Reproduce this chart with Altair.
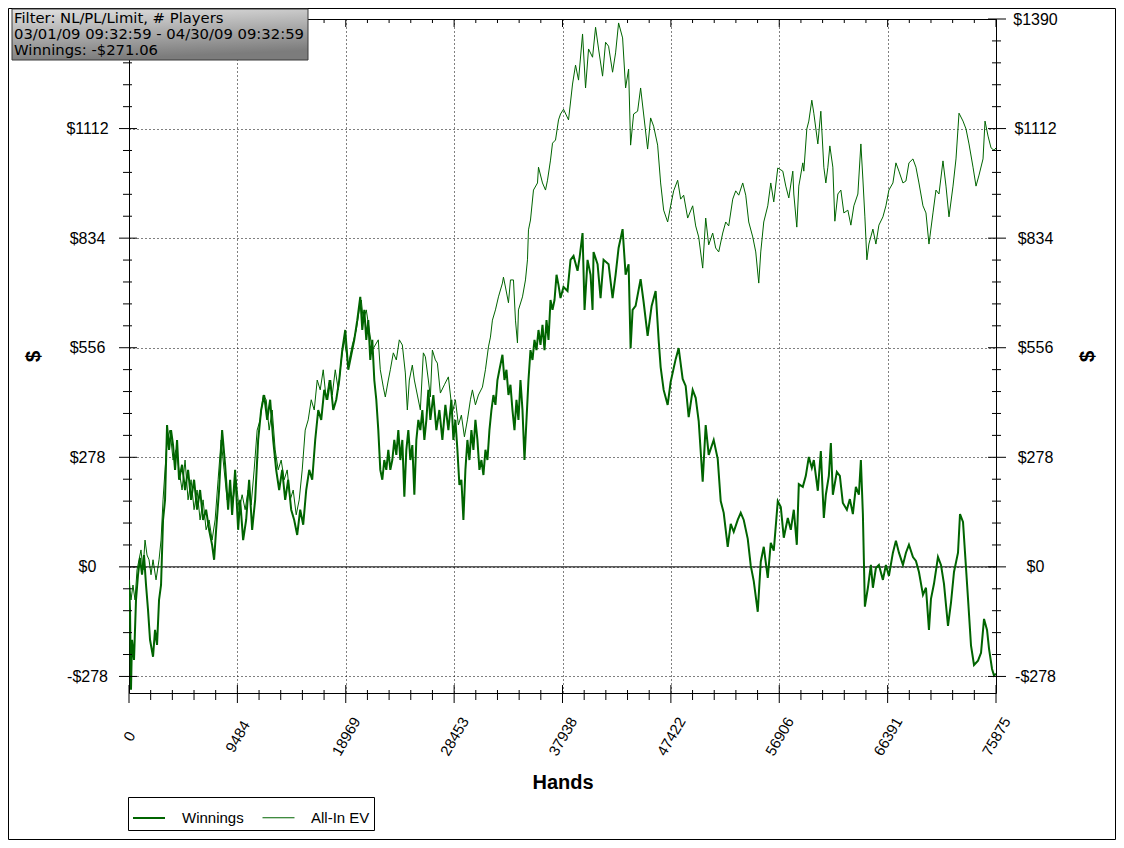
import altair as alt
import pandas as pd

# ---------------- data ----------------
SERIES = ["Winnings", "All-In EV"]

W_HANDS = [0,88,175,263,438,613,789,964,1139,1314,1490,1665,1840,2103,2278,2453,2629,2804,2979,3154,
    3330,3505,3680,3855,4031,4206,4381,4644,4907,5170,5432,5695,5958,6221,6484,6747,7010,7272,7448,7623,
    7886,8149,8411,8674,8850,9025,9288,9551,9726,9989,10252,10514,10777,11040,11303,11566,11829,12092,12354,12617,
    12880,13143,13406,13669,13932,14194,14457,14720,14983,15246,15509,15772,16034,16297,16560,16823,17086,17349,17612,17874,
    18137,18400,18663,18926,
    19189,19452,19714,19977,20240,20415,20591,20766,20941,21116,21292,21467,21642,21817,21993,22168,22343,22518,22694,22869,
    23044,23219,23395,23570,23745,23920,24096,24271,24446,24621,24796,24972,25147,25322,25497,25673,25848,26023,26198,26374,
    26636,26899,27162,27425,27688,27951,28214,28389,28564,28739,28915,29090,29265,29440,29616,29791,29966,30141,30317,30492,
    30667,30842,31017,31193,31368,31543,31718,31894,32069,32244,32419,32682,32858,33033,33208,33383,33558,33734,33909,34084,
    34259,34435,34610,34785,34960,35136,35311,35486,35661,35837,36012,36187,36362,36538,36713,36888,37063,37239,37414,37589,
    37764,38027,38378,38640,38903,39254,39429,39692,39867,40130,40393,40568,40656,41006,41269,41532,41970,42320,42583,42846,
    43197,43460,43722,43898,44073,44336,44774,45037,45387,45738,46088,46351,46526,46789,47140,47402,47841,48103,48454,48717,
    48980,49330,49593,49856,50206,50469,50732,51170,51521,51783,52046,52397,52660,52922,53273,53536,53799,54149,54412,54675,
    55025,55288,55551,55902,56164,56427,56778,
    57041,57303,57654,57917,58180,58443,58618,58968,59231,59494,59757,59932,60283,60545,60808,60984,61246,61422,61597,61947,
    62210,62473,62824,63086,63349,63612,63875,64050,64225,64401,64664,64926,65102,65365,65627,65978,66241,66504,66854,67117,
    67380,67730,67993,68256,68607,68869,69132,69483,69746,70008,70184,70447,70797,71060,71323,71674,71936,72199,72550,72725,
    72988,73163,73426,73689,73951,74302,74565,74827,75090,75266,75528,75704,75875]

W_DOLLARS = [-33,-109,-312,-185,-236,-84,-20,23,-20,30,-46,-109,-185,-228,-160,-198,-84,-46,119,170,
    360,297,347,309,246,322,221,259,195,246,170,221,145,195,119,145,94,56,18,94,
    195,347,259,145,221,132,246,94,170,68,119,221,94,170,322,398,436,373,424,322,
    246,195,246,170,221,145,119,81,145,107,195,246,221,322,398,373,449,424,474,398,
    424,474,550,601,
    500,538,576,626,685,601,652,576,626,525,576,474,424,347,246,221,271,246,297,246,
    271,322,284,347,271,322,178,297,347,271,309,183,322,373,347,398,322,373,449,373,
    436,347,398,322,411,347,424,322,373,297,208,221,119,246,322,271,347,297,373,322,
    246,271,233,297,271,347,398,436,411,474,500,538,474,500,436,462,398,347,424,373,
    474,398,271,373,474,550,525,576,550,601,563,614,550,626,576,677,652,677,741,715,
    682,710,700,779,789,751,784,847,652,779,741,652,799,768,682,779,768,682,741,809,
    857,741,768,555,652,662,730,672,586,662,700,576,507,449,411,469,527,555,477,459,
    380,449,429,370,216,360,284,322,274,167,137,51,109,89,119,137,119,71,3,-36,
    -114,13,51,-28,61,41,167,
    152,74,124,94,145,56,210,203,231,279,251,271,193,294,124,183,231,314,183,241,
    231,162,145,172,134,203,183,271,134,-101,-53,5,-53,-3,5,-33,5,-23,36,66,
    36,5,36,56,25,15,-13,-71,-53,-160,-81,-43,25,5,-43,-150,-91,-13,36,134,
    114,36,-81,-200,-249,-238,-218,-132,-160,-208,-259,-276,-271]

E_HANDS = [0,175,350,526,701,876,1051,1227,1402,1577,1752,1928,2103,2366,2629,2804,2979,3154,3330,3592,
    3855,4118,4381,4644,4907,5170,5432,5695,5958,6221,6484,6747,7010,7272,7535,7798,8061,8324,8587,8850,
    9112,9375,9638,9901,10164,10427,10690,10952,11215,11478,11741,12004,12267,12530,12793,13055,13318,13581,13844,14107,
    14370,14633,14895,15158,15421,15684,15947,16210,16473,16735,16998,17261,17524,17787,18050,18313,18575,18838,
    19189,19539,19890,20153,20328,20503,20766,21029,21292,21555,21817,21993,22255,22431,22694,22869,23132,23395,23657,23920,
    24183,24358,24534,24796,24972,25235,25497,25760,25936,26198,26374,26549,26812,26987,27250,27600,27951,28301,28564,28827,
    29090,29353,29616,29878,30054,30317,30579,30930,31193,31456,31631,31806,32069,32332,32682,32770,32945,33208,33383,33646,
    33821,33996,34084,34435,34698,34873,34960,35136,35398,35749,35837,36187,36450,36625,36888,37063,37326,37589,
    37764,38027,38465,38816,39079,39341,39692,39955,40218,40568,40831,41094,41444,41707,41970,42320,42583,42846,43197,43460,
    43722,43898,44161,44511,44774,45037,45387,45650,45913,46263,46526,46789,47140,47402,47665,48016,48279,48541,48892,49330,
    49593,49856,50206,50469,50732,51082,51345,51608,51959,52222,52484,52835,53098,53361,53711,53974,54237,54587,54850,55113,
    55288,55551,55902,56164,56427,56778,
    57216,57479,57742,58092,58180,58443,58618,58968,59056,59319,59494,59757,59932,60283,60545,60808,60984,61159,61334,61597,
    61772,62035,62298,62561,62911,63174,63437,63787,64050,64225,64401,64576,64751,65102,65365,65627,65978,66241,66504,66854,
    67117,67380,67730,67993,68256,68607,68869,69132,69483,69746,70008,70359,70622,70885,71235,71498,71761,72112,72374,72637,
    72988,73250,73513,73864,74127,74389,74740,74915,75178,75441,75704,75875]

E_DOLLARS = [-33,-84,-46,-84,-8,18,43,-8,68,30,18,-20,18,-33,18,68,170,246,322,347,
    271,297,246,195,271,170,221,145,195,119,170,94,119,68,119,221,322,246,170,195,
    170,221,145,183,145,195,157,246,347,373,436,424,347,398,297,246,271,221,246,170,
    195,132,170,246,347,373,424,398,474,449,500,424,474,436,500,449,525,576,
    512,563,601,652,677,626,652,601,550,563,576,500,456,431,474,500,543,525,576,563,
    492,398,474,512,474,436,398,543,533,474,431,550,525,517,441,462,482,391,424,360,
    385,330,373,424,449,411,436,456,500,558,583,626,652,685,720,735,710,670,728,728,
    626,568,652,685,728,779,855,880,956,974,1014,974,956,981,1032,1075,1083,1134,
    1149,1161,1134,1225,1273,1235,1352,1215,1314,1293,1369,1314,1245,1331,1321,1255,1304,1380,1342,1215,
    1263,1070,1149,1156,1215,1149,1060,1139,1118,1070,974,905,875,916,954,981,933,943,885,916,
    865,837,758,885,817,847,809,799,847,875,865,933,954,943,974,943,875,837,799,720,
    799,875,916,974,926,1012,
    1004,966,936,1004,946,862,966,1025,1004,1111,1131,1184,1151,1073,1156,1014,974,1014,1068,1014,
    877,946,956,898,905,867,916,946,1073,984,888,779,819,857,819,867,888,916,956,974,
    1025,1004,974,979,1025,1035,1014,974,916,898,819,898,956,946,1030,966,888,966,1035,1151,
    1131,1111,1073,1014,966,994,1035,1131,1093,1063,1057,1063]

X_TICKS = [0, 9484.375, 18968.75, 28453.125, 37937.5, 47421.875, 56906.25, 66390.625, 75875]
Y_TICKS = [-278, 0, 278, 556, 834, 1112, 1390]
X_DOMAIN = [0, 75875]
Y_DOMAIN = [-320, 1390]

INFO_LINES = ["Filter: NL/PL/Limit, # Players",
              "03/01/09 09:32:59 - 04/30/09 09:32:59",
              "Winnings: -$271.06"]

X_TITLE = "Hands"
Y_TITLE = "$"

# ---------------- build ----------------
W, H = 867, 674
GREEN = "#006400"
AX_FONT = "Liberation Sans"

df = pd.concat([
    pd.DataFrame({"hands": W_HANDS, "dollars": W_DOLLARS, "series": SERIES[0]}),
    pd.DataFrame({"hands": E_HANDS, "dollars": E_DOLLARS, "series": SERIES[1]}),
], ignore_index=True)

x_step = (X_TICKS[1] - X_TICKS[0]) / 5
y_step = (Y_TICKS[1] - Y_TICKS[0]) / 5
x_minor = [X_TICKS[0] + x_step * k for k in range(41) if k % 5 != 0]
y_minor = [Y_TICKS[0] + y_step * k for k in range(31) if k % 5 != 0]

xmaj = pd.DataFrame({"v": X_TICKS})
xmin = pd.DataFrame({"v": x_minor})
ymaj = pd.DataFrame({"v": Y_TICKS})
ymin = pd.DataFrame({"v": y_minor})
one = pd.DataFrame({"t": ["\n".join(INFO_LINES)]})

xscale = alt.Scale(domain=X_DOMAIN, nice=False, zero=False)
yscale = alt.Scale(domain=Y_DOMAIN, nice=False, zero=False)

y_label_expr = "(datum.value < 0 ? '-$' : '$') + format(abs(datum.value), 'd')"
# the top-left label sits under the info box in the reference
y_label_expr_left = "datum.value >= 1390 ? '' : " + y_label_expr

X_AXIS = alt.Axis(
    orient="bottom", values=X_TICKS, format="d", title=X_TITLE,
    ticks=False, tickSize=0, domain=False,
    grid=True, gridColor="black", gridDash=[1, 3], gridOpacity=1, gridWidth=1,
    labelAngle=300, labelAlign="center", labelBaseline="middle", labelPadding=43,
    labelFont=AX_FONT, labelFontSize=15, labelColor="black",
    labelOverlap=False, labelFlush=False, labelBound=False,
    titleFont=AX_FONT, titleFontSize=20, titleFontWeight="bold", titleColor="black",
    titleX=W / 2, titleY=89, titleAlign="center", titleBaseline="middle")

legend_kw = dict(orient="none", legendX=-1, legendY=778, direction="horizontal", title=None,
                 symbolType="stroke", symbolSize=1024, labelFont=AX_FONT, labelFontSize=15,
                 labelColor="black", strokeColor="black", fillColor="white", padding=4,
                 columnPadding=16, labelOffset=16)

lines = alt.Chart(df).mark_line(clip=True).encode(
    x=alt.X("hands:Q", scale=xscale, axis=X_AXIS),
    y=alt.Y("dollars:Q", scale=yscale, axis=alt.Axis(
        orient="left", values=Y_TICKS, labelExpr=y_label_expr_left, title=Y_TITLE,
        ticks=False, tickSize=0, domain=False,
        grid=True, gridColor="black", gridDash=[1, 3], gridOpacity=1, gridWidth=1,
        labelAlign="center", labelBaseline="middle", labelPadding=42,
        labelFont=AX_FONT, labelFontSize=16, labelColor="black", labelOverlap=False,
        titleFont=AX_FONT, titleFontSize=21, titleFontWeight="bold", titleColor="black",
        titleX=-96, titleY=H / 2, titleAngle=270, titleAlign="center", titleBaseline="middle")),
    color=alt.Color("series:N", scale=alt.Scale(domain=SERIES, range=[GREEN, GREEN]),
                    legend=alt.Legend(**legend_kw)),
    strokeWidth=alt.StrokeWidth("series:N", scale=alt.Scale(domain=SERIES, range=[2, 1]),
                                legend=alt.Legend(**legend_kw)),
)

zero = alt.Chart(one).mark_rule(color="black", strokeWidth=1).encode(
    y=alt.Y(datum=0, scale=yscale, axis=None))

def yrule(data, x1, x2, axis=None):
    return alt.Chart(data).mark_rule(color="black", strokeWidth=1).encode(
        y=alt.Y("v:Q", scale=yscale, axis=axis), x=alt.value(x1), x2=alt.value(x2))

def xrule(data, y1, y2):
    return alt.Chart(data).mark_rule(color="black", strokeWidth=1).encode(
        x=alt.X("v:Q", scale=xscale, axis=X_AXIS), y=alt.value(y1), y2=alt.value(y2))

right_axis = alt.Axis(
    orient="right", values=Y_TICKS, labelExpr=y_label_expr, title=Y_TITLE,
    ticks=False, tickSize=0, domain=False, grid=False,
    labelAlign="center", labelBaseline="middle", labelPadding=39,
    labelFont=AX_FONT, labelFontSize=16, labelColor="black", labelOverlap=False,
    titleFont=AX_FONT, titleFontSize=21, titleFontWeight="bold", titleColor="black",
    titleX=91, titleY=H / 2, titleAngle=270, titleAlign="center", titleBaseline="middle")

ticks = [
    yrule(ymaj, -10, 8), yrule(ymin, -6, 3),
    yrule(ymaj, W - 8, W + 10, axis=right_axis), yrule(ymin, W - 4, W + 5),
    xrule(xmaj, H - 8, H + 10), xrule(xmin, H - 3, H + 7),
    xrule(xmaj, 0, 8), xrule(xmin, 0, 4),
]

info_box = alt.Chart(one).mark_rect(
    fill=alt.Gradient(gradient="linear", x1=0, y1=0, x2=0.25, y2=1,
                      stops=[alt.GradientStop(offset=0, color="#e2e2e2"),
                             alt.GradientStop(offset=1, color="#7c7c7c")]),
    stroke="#3a3a3a", strokeWidth=1).encode(
    x=alt.value(-117), x2=alt.value(179), y=alt.value(-10), y2=alt.value(41))

info_text = alt.Chart(one).mark_text(
    align="left", baseline="alphabetic", lineBreak="\n", lineHeight=16.3,
    font="DejaVu Sans", fontSize=14.8, color="black").encode(
    x=alt.value(-115), y=alt.value(3.7), text="t:N")

frame = alt.Chart(one).mark_rect(fill=None, stroke="black", strokeWidth=1).encode(
    x=alt.value(-120.5), x2=alt.value(W + 119.5), y=alt.value(-10.5), y2=alt.value(H + 146.5))

chart = alt.layer(
    frame, zero, lines, *ticks, info_box, info_text
).resolve_scale(y="independent").resolve_axis(y="independent").properties(
    width=W, height=H,
    padding={"left": 121, "top": 11, "right": 120, "bottom": 147},
    autosize=alt.AutoSizeParams(type="none"),
).configure(background="white").configure_view(stroke="black", strokeWidth=1)

chart.save("out.html", embed_options={"renderer": "svg", "actions": False})
